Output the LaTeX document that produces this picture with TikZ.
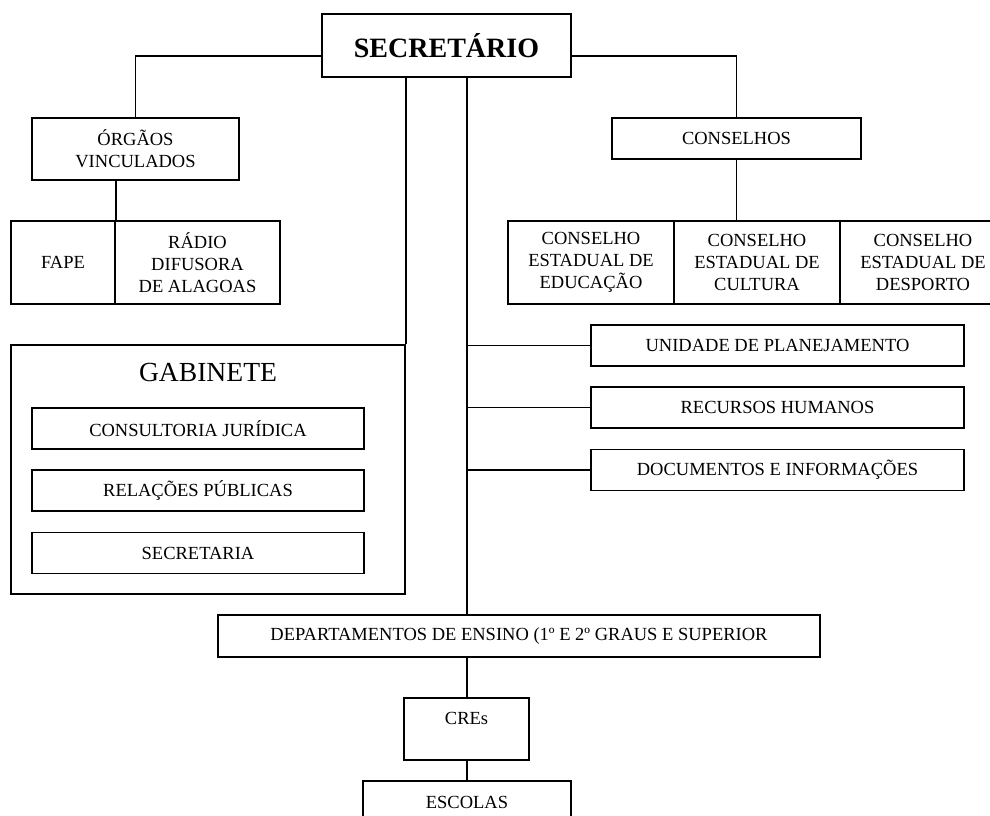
\documentclass[tikz,border=0pt]{standalone}
\usepackage{fontspec}
\setmainfont{Liberation Serif}
\usetikzlibrary{calc}

\begin{document}
\begin{tikzpicture}[x=1pt, y=-1pt, line width=1.8pt,
    box/.style={draw, align=center, inner sep=0pt, font=\fontsize{18.5}{21.7}\selectfont},
    flat/.style={box, minimum height=41pt},
    tall/.style={box, minimum height=83pt}]
  \useasboundingbox (0,0) rectangle (990,816);
  % topo
  \node[box, minimum width=249pt, minimum height=63pt, font=\fontsize{28}{32}\selectfont\bfseries] (sec) at (446.5,45.5) {SECRETÁRIO};
  \node[box, minimum width=207pt, minimum height=62pt] (org) at (135.5,149) {ÓRGÃOS\\VINCULADOS};
  \node[tall, minimum width=104pt] (fape) at (63,262.5) {FAPE};
  \node[tall, minimum width=165pt] (radio) at (197.5,262.5) {RÁDIO\\DIFUSORA\\DE ALAGOAS};
  \node[flat, minimum width=249pt] (cons) at (736.5,138.5) {CONSELHOS};
  \node[tall, minimum width=166pt] (ceedu) at (591,262.5) {CONSELHO\\ESTADUAL DE\\EDUCAÇÃO};
  \node[tall, minimum width=166pt] (cecul) at (757,262.5) {CONSELHO\\ESTADUAL DE\\CULTURA};
  \node[tall, minimum width=166pt] (cedesp) at (923,262.5) {CONSELHO\\ESTADUAL DE\\DESPORTO};
  % gabinete
  \node[box, minimum width=394pt, minimum height=249pt] (gab) at (208,469.5) {};
  \node[font=\fontsize{27.6}{32}\selectfont, inner sep=0pt] (gabt) at (208,372) {GABINETE};
  \node[flat, minimum width=332pt] (cj) at (198,428.5) {CONSULTORIA JURÍDICA};
  \node[flat, minimum width=332pt] (rp) at (198,490.5) {RELAÇÕES PÚBLICAS};
  \node[flat, minimum width=332pt] (sria) at (198,553) {SECRETARIA};
  % unidades
  \node[flat, minimum width=373pt] (up) at (777.5,345.5) {UNIDADE DE PLANEJAMENTO};
  \node[flat, minimum width=373pt] (rh) at (777.5,407.5) {RECURSOS HUMANOS};
  \node[flat, minimum width=373pt] (di) at (777.5,470) {DOCUMENTOS E INFORMAÇÕES};
  \node[box, minimum width=602pt, minimum height=42pt] (dep) at (519,636) {DEPARTAMENTOS DE ENSINO (1º E 2º GRAUS E SUPERIOR};
  \node[box, minimum width=125pt, minimum height=62pt] (cre) at (466.5,729) {CREs\\~};
  \node[box, minimum width=208pt, minimum height=42pt] (esc) at (467,802) {ESCOLAS};
  \coordinate (trunk) at (467,77);

  \draw ([yshift=-10.5pt]sec.west) -| (org.north);
  \draw ([yshift=-10.5pt]sec.east) -| (cons.north);
  \draw (fape.north east) -- (fape.north east |- org.south);
  \draw (cons.south) -- (cons.south |- cecul.north);
  \draw (gab.north east) -- (gab.north east |- sec.south);
  \draw (trunk) -- (trunk |- dep.north);
  \draw (up.west) -- (up.west -| trunk);
  \draw (rh.west) -- (rh.west -| trunk);
  \draw (di.west) -- (di.west -| trunk);
  \draw (dep.south -| trunk) -- (cre.north -| trunk);
  \draw (cre.south -| trunk) -- (esc.north -| trunk);
\end{tikzpicture}
\end{document}
